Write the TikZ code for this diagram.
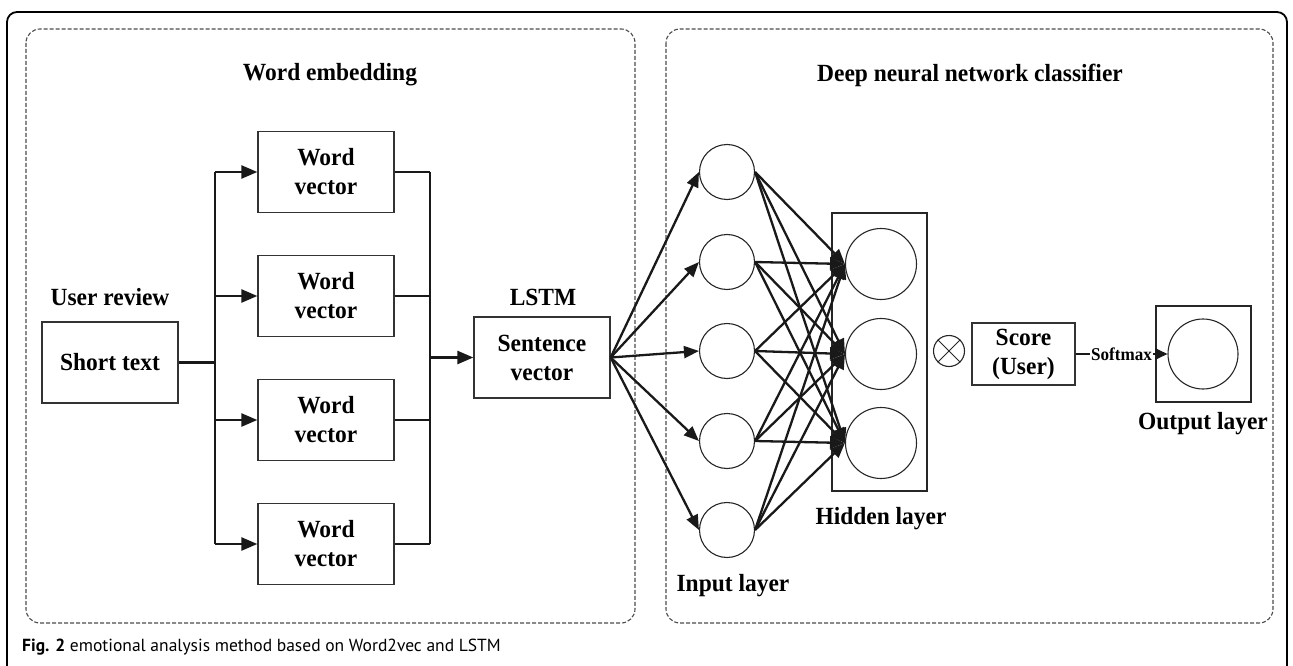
\documentclass[tikz,border=0pt]{standalone}
\usepackage{fontspec}
\setmainfont[FakeStretch=0.95]{Liberation Serif}
\newfontfamily\capfont{PT Sans}
\usetikzlibrary{arrows.meta}
\begin{document}
\begin{tikzpicture}[x=1pt,y=-1pt,
 lbl/.style={font=\fontsize{24.7}{29}\selectfont\bfseries, inner sep=0pt},
 box/.style={draw=black!80, line width=1.3pt, align=center, inner sep=0pt, font=\fontsize{24.7}{29}\selectfont\bfseries},
 wbox/.style={box, minimum width=136pt, minimum height=81pt},
 wire/.style={line width=2.5pt, draw=black!90},
 arr/.style={wire, -{Triangle[length=16pt,width=13pt]}},
 narr/.style={line width=2.3pt, draw=black!90, -{Triangle[length=15pt,width=12pt]}},
 neuron/.style={circle, draw=black!85, line width=1.1pt, inner sep=0pt},
 region/.style={draw=black!70, dash pattern=on 4pt off 2pt, line width=1.1pt, rounded corners=14pt},
]
\useasboundingbox (0,0) rectangle (1293,666);
% outer frame
\draw[line width=1.8pt, black, rounded corners=10pt] (7,690) -- (7,12) -- (1287,12) -- (1287,690);
% regions
\draw[region] (26,29) rectangle (635,623);
\draw[region] (666,29) rectangle (1273,623);
\node[lbl] (t1) at (330,75) {Word embedding};
\node[lbl] (t2) at (970,75) {Deep neural network classifier};
% left part
\node[wbox] (st) at (110,362.5) {Short text};
\node[lbl] (ur) at (110,297) {User review};
\node[wbox] (w1) at (326,172) {Word\\vector};
\node[wbox] (w2) at (326,296) {Word\\vector};
\node[wbox] (w3) at (326,420) {Word\\vector};
\node[wbox] (w4) at (326,544) {Word\\vector};
\node[wbox] (sv) at (542,357.5) {Sentence\\vector};
\node[lbl] (lstm) at (543,297) {LSTM};
\coordinate (lb) at (215,362.5);
\coordinate (rb) at (430,357.5);
\draw[wire] (st.east) -- (lb);
\draw[wire] (lb |- w1.west) -- (lb |- w4.west);
\foreach \w in {w1,w2,w3,w4}{
  \draw[arr] (lb |- \w.west) -- (\w.west);
  \draw[wire] (\w.east) -- (rb |- \w.east);
}
\draw[wire] (rb |- w1.east) -- (rb |- w4.east);
\draw[arr] (rb) -- (sv.west);
% input layer
\foreach \i/\y in {1/172,2/262,3/351,4/441,5/530}{
  \node[neuron, minimum size=55pt] (i\i) at (727,\y) {};
}
% hidden layer
\node[draw=black!85, line width=1.3pt, minimum width=95pt, minimum height=278pt, inner sep=0pt] (hb) at (879.5,352) {};
\foreach \j/\y in {1/264,2/354,3/443}{
  \node[neuron, minimum size=71pt] (h\j) at (881,\y) {};
}
\foreach \i in {1,...,5}{
  \draw[narr] (sv.east) -- (i\i.west);
  \foreach \j in {1,2,3}{
    \draw[narr] (i\i.east) -- (h\j.west);
  }
}
\node[lbl] (hl) at (881,519) {Hidden layer};
\node[lbl] (il) at (733,586) {Input layer};
% otimes
\node[neuron, minimum size=31pt] (ot) at (949,351) {};
\draw[black!85, line width=0.9pt] (ot.north west) -- (ot.south east);
\draw[black!85, line width=0.9pt] (ot.north east) -- (ot.south west);
% score
\node[box, minimum width=103pt, minimum height=62pt] (sc) at (1023.5,354) {Score\\(User)};
% output
\node[draw=black!85, line width=1.3pt, minimum width=95pt, minimum height=96pt, inner sep=0pt] (ob) at (1203.5,354) {};
\node[neuron, minimum size=70pt] (oc) at (1203,354) {};
\draw[line width=2.2pt, draw=black!90, -{Triangle[length=12pt,width=11pt]}] (sc.east) -- node[fill=white, inner sep=1pt, font=\fontsize{18}{20}\selectfont\bfseries] (sm) {Softmax} (oc.west);
\node[lbl] (ol) at (1203,424) {Output layer};
% caption
\node[anchor=west, inner sep=0pt, font=\capfont\fontsize{17.5}{20}\selectfont] (cap) at (22,647) {\textbf{Fig. 2} emotional analysis method based on Word2vec and LSTM};
\end{tikzpicture}
\end{document}
